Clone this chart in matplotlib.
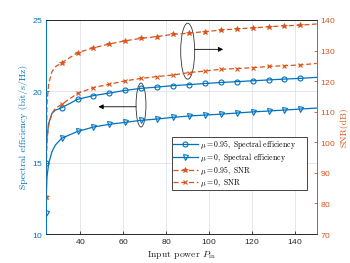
import matplotlib
matplotlib.use("Agg")
import matplotlib.pyplot as plt
from matplotlib.patches import Ellipse

plt.rcParams['mathtext.fontset'] = 'cm'
plt.rcParams['axes.formatter.use_mathtext'] = True

# input power samples (markers sit on every point except the few extra ones near the start)
p_in = [24, 24.6, 25.4, 26.9, 28.5, 31.4, 38.8, 46.2, 53.6, 61.0, 68.4, 75.8, 83.2,
        90.6, 98.0, 105.4, 112.8, 120.2, 127.6, 135.0, 142.4, 150]
se_mu095 = [15.0, 16.82, 17.76, 18.46, 18.68, 18.85, 19.44, 19.70, 19.88, 20.07, 20.21,
            20.30, 20.40, 20.47, 20.55, 20.62, 20.68, 20.74, 20.80, 20.86, 20.91, 20.98]
se_mu0 = [11.5, 14.02, 14.96, 15.77, 16.24, 16.71, 17.19, 17.50, 17.69, 17.83, 17.97,
          18.06, 18.18, 18.27, 18.34, 18.40, 18.48, 18.56, 18.62, 18.69, 18.76, 18.83]
snr_mu095 = [82, 112.8, 119.3, 123.1, 124.7, 126.0, 129.3, 130.9, 132.15, 133.2, 134.0,
             134.6, 135.3, 135.7, 136.2, 136.7, 137.1, 137.4, 137.8, 138.1, 138.3, 138.7]
snr_mu0 = [82, 100.7, 105.7, 109.5, 111.1, 112.4, 116.0, 117.9, 119.0, 120.1, 120.9,
           121.5, 122.0, 122.8, 123.3, 123.9, 124.1, 124.4, 124.8, 125.05, 125.3, 125.8]
marks = [0] + list(range(5, 21))

blue = '#0072BD'
orange = '#D95319'
serif = 'cmr10'

fig = plt.figure(figsize=(3.5, 2.63), dpi=100)
ax = fig.add_axes([0.1306, 0.110, 0.7744, 0.814])
ax2 = ax.twinx()

l1, = ax.plot(p_in, se_mu095, '-', color=blue, lw=0.9, marker='o', ms=3.6,
              mfc='none', mew=0.8, markevery=marks,
              label=r'$\mu = 0.95,\ \mathrm{Spectral\ efficiency}$')
l2, = ax.plot(p_in, se_mu0, '-', color=blue, lw=0.9, marker='v', ms=3.6,
              mfc='none', mew=0.8, markevery=marks,
              label=r'$\mu = 0,\ \mathrm{Spectral\ efficiency}$')
l3, = ax2.plot(p_in, snr_mu095, '--', color=orange, lw=0.9, marker='*', ms=4.2,
               mew=0.5, markevery=marks, dashes=(4, 2.2),
               label=r'$\mu = 0.95,\ \mathrm{SNR}$')
l4, = ax2.plot(p_in, snr_mu0, '--', color=orange, lw=0.9, marker='x', ms=3.2,
               mew=0.8, markevery=marks, dashes=(4, 2.2),
               label=r'$\mu = 0,\ \mathrm{SNR}$')

ax.set_xlim(24, 150)
ax.set_ylim(10, 25)
ax2.set_ylim(70, 140)
ax.set_xticks([40, 60, 80, 100, 120, 140])
ax.set_yticks([10, 15, 20, 25])
ax2.set_yticks([70, 80, 90, 100, 110, 120, 130, 140])

ax.grid(True, color='#dfe3ea', lw=0.6)
ax.set_axisbelow(True)

for a in (ax, ax2):
    a.tick_params(direction='in', length=2.5, width=0.6, labelsize=6, pad=2)
    for lab in a.get_xticklabels() + a.get_yticklabels():
        lab.set_fontfamily('Liberation Sans')
ax.tick_params(axis='y', colors=blue)
ax.tick_params(axis='x', colors='#262626', top=False)
ax2.tick_params(axis='y', colors=orange)

for a in (ax, ax2):
    a.spines['top'].set_color('#262626')
    a.spines['bottom'].set_color('#262626')
    a.spines['left'].set_color(blue)
    a.spines['right'].set_color(orange)
    for s in a.spines.values():
        s.set_linewidth(0.6)

ax.set_xlabel(r'Input power $P_{\rm in}$', fontsize=7, family=serif,
              color='#262626', labelpad=2)
ax.set_ylabel('Spectral efficiency (bit/s/Hz)', fontsize=7, family=serif,
              color=blue, labelpad=3)
ax2.set_ylabel('SNR(dB)', fontsize=7, family=serif, color=orange, labelpad=3)

# ellipse + arrow markings
ax.add_patch(Ellipse((68.3, 19.04), 4.6, 3.08, fill=False, ec='#333333', lw=0.6))
ax.annotate('', xy=(48.5, 18.92), xytext=(66.0, 18.92),
            arrowprops=dict(arrowstyle='-|>', color='black', lw=0.6,
                            mutation_scale=7, shrinkA=0, shrinkB=0))
ax2.add_patch(Ellipse((90.0, 129.8), 6.5, 18.3, fill=False, ec='#333333', lw=0.6))
ax2.annotate('', xy=(106.5, 130.4), xytext=(93.2, 130.4),
             arrowprops=dict(arrowstyle='-|>', color='black', lw=0.6,
                             mutation_scale=7, shrinkA=0, shrinkB=0))

leg = ax2.legend(handles=[l1, l2, l3, l4], loc='lower left',
                 bbox_to_anchor=(0.466, 0.208, 0.498, 0.196), mode='expand',
                 prop={'size': 5.6}, handlelength=3.2, handleheight=0.4,
                 handletextpad=0.3, labelspacing=0.0, borderpad=0.12,
                 borderaxespad=0, fancybox=False, framealpha=1)
leg.get_frame().set_edgecolor('#262626')
leg.get_frame().set_linewidth(0.6)

fig.savefig('out.png', dpi=100)
